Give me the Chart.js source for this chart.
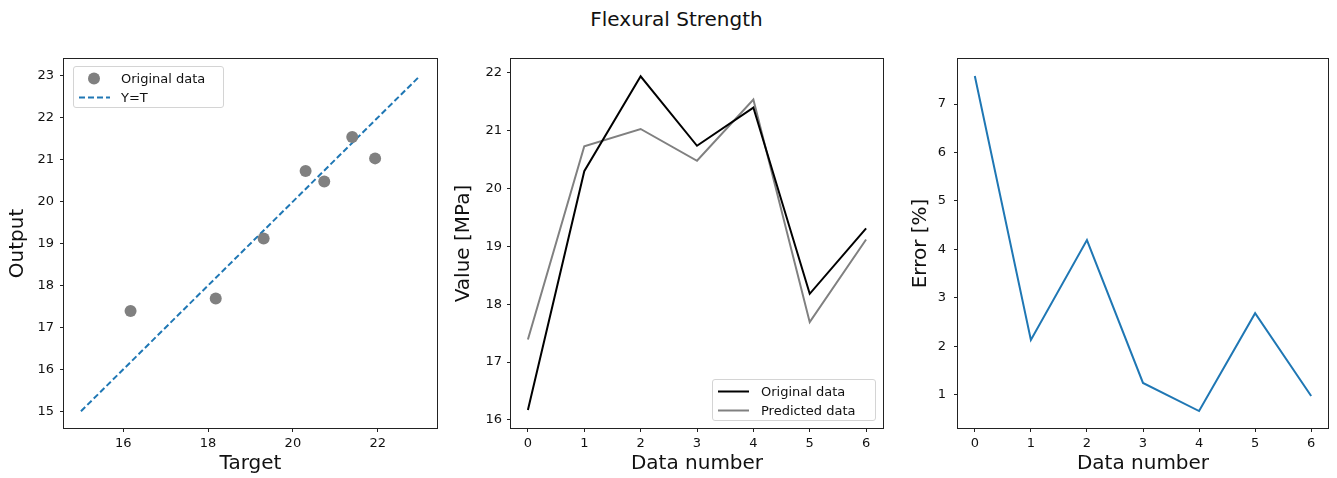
<!DOCTYPE html>
<html>
<head>
<meta charset="utf-8">
<title>Flexural Strength</title>
<script src="https://cdn.jsdelivr.net/npm/chart.js@4"></script>
<style>
    body { margin: 0; background: #fff; font-family: 'DejaVu Sans', sans-serif; }
    #page { position: relative; width: 1337px; height: 478px; overflow: hidden; }
    .panel { position: absolute; top: 0; height: 478px; }
    #title { position: absolute; left: 0; width: 1353px; top: 7px; line-height: 24px; text-align: center; font-size: 20px; color: #111; }
    .legend { position: absolute; border: 1px solid #d4d4d4; border-radius: 3px; background: rgba(255,255,255,0.8); font-size: 13px; color: #111; box-sizing: border-box; }
    .legend-row { position: absolute; left: 0; height: 19px; line-height: 19px; white-space: nowrap; }
    .legend-row svg { position: absolute; top: 0; }
    .legend-row span { position: absolute; top: 0; }
</style>
</head>
<body>
<div id="page">
    <div id="title">Flexural Strength</div>
    <div class="panel" style="left:0px;width:447px"><canvas id="fit" width="447" height="478"></canvas></div>
    <div class="panel" style="left:447px;width:446px"><canvas id="values" width="446" height="478"></canvas></div>
    <div class="panel" style="left:893px;width:444px"><canvas id="error" width="444" height="478"></canvas></div>
</div>
<script>
// data
const dataNumbers = [0, 1, 2, 3, 4, 5, 6];
const originalData = [16.17, 20.30, 21.94, 20.74, 21.40, 18.18, 19.31];
const predictedData = [17.39, 20.73, 21.03, 20.48, 21.54, 17.69, 19.12];
const errorPercent = [7.58, 2.13, 4.19, 1.24, 0.66, 2.68, 0.97];
const identityLine = [15, 23];

// tick labels
const targetTicks = [16, 18, 20, 22];
const outputTicks = [15, 16, 17, 18, 19, 20, 21, 22, 23];
const valueTicks = [16, 17, 18, 19, 20, 21, 22];
const errorTicks = [1, 2, 3, 4, 5, 6, 7];

const FONT = 'DejaVu Sans';
const BLUE = '#1f77b4';
const GREY = '#808080';

// matplotlib-like box around the plot area
const framePlugin = {
    id: 'frame',
    afterDraw(chart) {
        const ctx = chart.ctx;
        const a = chart.chartArea;
        ctx.save();
        ctx.strokeStyle = '#222';
        ctx.lineWidth = 1;
        ctx.strokeRect(Math.round(a.left) - 0.5, Math.round(a.top) - 0.5,
            Math.round(a.right - a.left) + 1, Math.round(a.bottom - a.top) + 1);
        ctx.restore();
    }
};

function makeScale(min, max, tickValues, titleText, size, tickPad, titlePad) {
    return {
        type: 'linear',
        min: min,
        max: max,
        afterBuildTicks: function (s) { s.ticks = tickValues.map(v => ({ value: v })); },
        afterFit: function (s) {
            if (s.isHorizontal()) s.height = size; else s.width = size;
        },
        grid: { display: true, drawOnChartArea: false, drawTicks: true, tickLength: 4, color: '#222', lineWidth: 1 },
        border: { display: false },
        ticks: { color: '#111', font: { family: FONT, size: 13 }, padding: tickPad, autoSkip: false, maxRotation: 0 },
        title: { display: true, text: titleText, color: '#111', font: { family: FONT, size: 20 }, padding: titlePad }
    };
}

function baseOptions(xScale, yScale, padRight) {
    return {
        responsive: false,
        animation: false,
        events: [],
        layout: { padding: { top: 59, right: padRight, left: 0, bottom: 0 } },
        scales: { x: xScale, y: yScale },
        plugins: { legend: { display: false }, tooltip: { enabled: false } }
    };
}

function addLegend(left, top, width, items) {
    const box = document.createElement('div');
    box.className = 'legend';
    box.style.left = left + 'px';
    box.style.top = top + 'px';
    box.style.width = width + 'px';
    box.style.height = '42px';
    items.forEach(function (it, i) {
        const row = document.createElement('div');
        row.className = 'legend-row';
        row.style.top = (2 + i * 19) + 'px';
        row.style.width = width + 'px';
        let mark;
        if (it.kind === 'point') {
            mark = '<svg width="40" height="19" style="left:4px"><circle cx="16" cy="9.5" r="6" fill="' + it.color + '"/></svg>';
        } else {
            const dash = it.dash ? ' stroke-dasharray="' + it.dash.join(',') + '"' : '';
            mark = '<svg width="40" height="19" style="left:4px"><line x1="1" y1="9.5" x2="32" y2="9.5" stroke="' + it.color + '" stroke-width="2"' + dash + '/></svg>';
        }
        row.innerHTML = mark + '<span style="left:' + it.textLeft + 'px">' + it.label + '</span>';
        box.appendChild(row);
    });
    document.getElementById('page').appendChild(box);
}

document.addEventListener('DOMContentLoaded', function () {
    // left: output vs target
    new Chart(document.getElementById('fit').getContext('2d'), {
        type: 'scatter',
        data: {
            datasets: [{
                label: 'Original data',
                data: originalData.map((t, i) => ({ x: t, y: predictedData[i] })),
                backgroundColor: GREY,
                pointRadius: 6,
                pointBorderWidth: 0
            }, {
                type: 'line',
                label: 'Y=T',
                data: identityLine.map(v => ({ x: v, y: v })),
                borderColor: BLUE,
                borderWidth: 2,
                borderDash: [6, 3],
                pointRadius: 0,
                fill: false
            }]
        },
        options: baseOptions(
            makeScale(14.6, 23.4, targetTicks, 'Target', 50, 4, { top: 0, bottom: 2 }),
            makeScale(14.6, 23.4, outputTicks, 'Output', 64, 6, { top: 6, bottom: 0 }),
            10),
        plugins: [framePlugin]
    });

    // middle: original vs predicted
    new Chart(document.getElementById('values').getContext('2d'), {
        type: 'line',
        data: {
            datasets: [{
                label: 'Original data',
                data: dataNumbers.map((n, i) => ({ x: n, y: originalData[i] })),
                borderColor: '#000',
                borderWidth: 2,
                pointRadius: 0,
                tension: 0
            }, {
                label: 'Predicted data',
                data: dataNumbers.map((n, i) => ({ x: n, y: predictedData[i] })),
                borderColor: GREY,
                borderWidth: 2,
                pointRadius: 0,
                tension: 0
            }]
        },
        options: baseOptions(
            makeScale(-0.3, 6.3, dataNumbers, 'Data number', 50, 4, { top: 0, bottom: 2 }),
            makeScale(15.86, 22.24, valueTicks, 'Value [MPa]', 64, 5, { top: 5, bottom: 0 }),
            10),
        plugins: [framePlugin]
    });

    // right: error
    new Chart(document.getElementById('error').getContext('2d'), {
        type: 'line',
        data: {
            datasets: [{
                label: 'Error',
                data: dataNumbers.map((n, i) => ({ x: n, y: errorPercent[i] })),
                borderColor: BLUE,
                borderWidth: 2,
                pointRadius: 0,
                tension: 0
            }]
        },
        options: baseOptions(
            makeScale(-0.3, 6.3, dataNumbers, 'Data number', 50, 4, { top: 0, bottom: 2 }),
            makeScale(0.31, 7.93, errorTicks, 'Error [%]', 65, 8, { top: 16, bottom: 0 }),
            9),
        plugins: [framePlugin]
    });

    addLegend(73, 66, 151, [
        { kind: 'point', color: GREY, label: 'Original data', textLeft: 47 },
        { kind: 'line', color: BLUE, dash: [6, 3], label: 'Y=T', textLeft: 47 }
    ]);
    addLegend(712, 379, 164, [
        { kind: 'line', color: '#000', label: 'Original data', textLeft: 48 },
        { kind: 'line', color: GREY, label: 'Predicted data', textLeft: 48 }
    ]);
});
</script>
</body>
</html>
